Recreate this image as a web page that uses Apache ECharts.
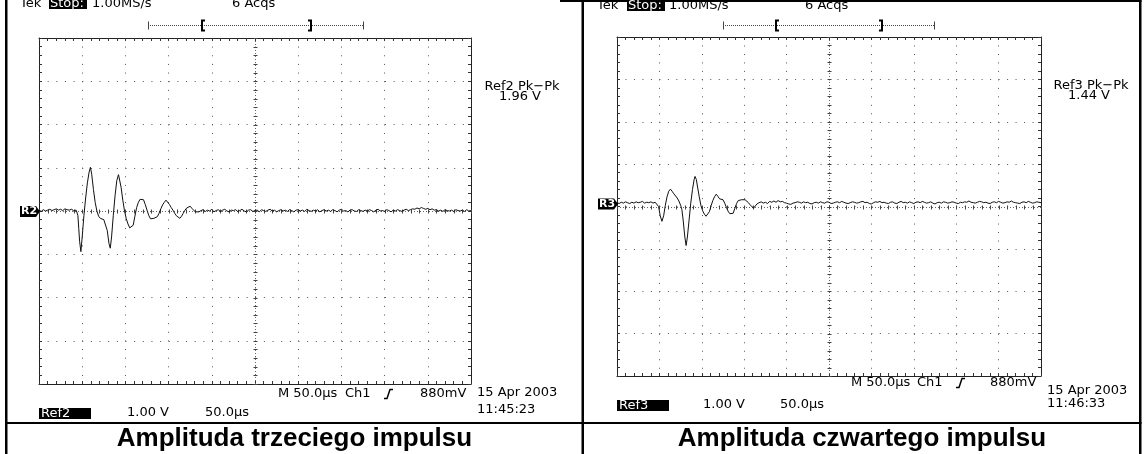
<!DOCTYPE html>
<html>
<head>
<meta charset="utf-8">
<script src="https://cdn.jsdelivr.net/npm/echarts@6/dist/echarts.min.js"></script>
<style>
html,body{margin:0;padding:0;background:#fff;}
#chart{width:1144px;height:454px;}
</style>
</head>
<body>
<div id="chart"></div>
<script>
// ---- DATA ----
// time in microseconds (50 us/div, 10 div), voltage in volts (1 V/div)
const ref2Points = [
[0,0.02],[2.5,-0.01],[5,0.03],[7.5,0.0],[10,0.02],[12.5,0.04],[15,0.01],[17.5,0.03],[20,0.05],[22.5,0.02],[25,0.04],
[27.5,0.01],[30,0.05],[32.5,0.03],[35,0.02],[37.5,0.04],[40,0.01],[43,0.02],
[45,-0.1],[46,-0.4],[47,-0.7],[48.5,-0.94],[50,-0.6],[52,-0.1],[54,0.3],[56,0.65],[58,0.9],[59.5,1.01],[61,0.85],[63,0.5],
[65,0.2],[67,0.0],[69,-0.12],[71,-0.17],[73,-0.15],[75,-0.2],[77,-0.22],[79,-0.45],[81,-0.75],[82.5,-0.86],[84,-0.6],
[86,-0.1],[88,0.35],[90,0.7],[92,0.84],[93.5,0.8],[95,0.55],[97,0.25],[99,0.0],[101,-0.18],[103,-0.3],[105,-0.39],
[107,-0.42],[109,-0.33],[111,-0.12],[113,0.08],[115,0.2],[117,0.27],[119,0.29],[121,0.26],[123,0.15],[125,0.02],
[127,-0.1],[129,-0.18],[131,-0.21],[133,-0.17],[135,-0.15],[137,-0.13],[139,-0.05],[141,0.05],[143,0.14],[145,0.2],
[147,0.25],[149,0.22],[151,0.15],[153,0.08],[155,0.02],[157,-0.05],[159,-0.11],[161,-0.15],[163,-0.17],[165,-0.12],
[167,-0.05],[169,0.02],[171,0.07],[173,0.1],[175,0.11],[177,0.06],[179,0.03],[181,-0.02],[183,0.02],
[185,-0.02],[187.5,0.01],[190,0.03],[192.5,-0.01],[195,0.02],[197.5,0.0],[200,0.04],[202.5,-0.02],[205,0.01],
[207.5,0.03],[210,-0.01],[212.5,0.02],[215,0.04],[217.5,0.0],[220,-0.02],[222.5,0.02],[225,0.01],[227.5,0.03],
[230,-0.01],[232.5,0.01],[235,0.04],[237.5,0.0],[240,-0.02],[242.5,0.02],[245,0.03],[247.5,-0.01],[250,0.01],
[252.5,0.02],[255,-0.02],[257.5,0.03],[260,0.01],[262.5,-0.01],[265,0.02],[267.5,0.04],[270,0.0],[272.5,0.02],
[275,-0.02],[277.5,0.01],[280,0.03],[282.5,0.0],[285,0.02],[287.5,-0.01],[290,0.03],[292.5,0.01],[295,-0.02],
[297.5,0.02],[300,0.03],[302.5,0.0],[305,0.02],[307.5,-0.01],[310,0.04],[312.5,0.01],[315,-0.01],[317.5,0.02],
[320,0.0],[322.5,0.03],[325,-0.02],[327.5,0.01],[330,0.03],[332.5,0.0],[335,0.02],[337.5,-0.01],[340,0.03],
[342.5,0.01],[345,-0.02],[347.5,0.02],[350,0.04],[352.5,0.0],[355,0.01],[357.5,-0.02],[360,0.02],[362.5,0.03],
[365,0.0],[367.5,-0.01],[370,0.03],[372.5,0.01],[375,-0.01],[377.5,0.02],[380,0.0],[382.5,0.03],[385,0.01],
[387.5,-0.02],[390,0.02],[392.5,0.04],[395,0.0],[397.5,0.01],[400,-0.01],[402.5,0.03],[405,0.01],[407.5,-0.02],
[410,0.02],[412.5,0.0],[415,0.03],[417.5,0.01],[420,-0.01],[422.5,0.02],[425,0.04],[427.5,0.01],[430,0.03],
[432.5,0.05],[435,0.04],[437.5,0.07],[440,0.05],[442.5,0.08],[445,0.06],[447.5,0.04],[450,0.06],[452.5,0.03],
[455,0.05],[457.5,0.02],[460,0.03],[462.5,0.0],[465,0.02],[467.5,-0.01],[470,0.03],[472.5,0.01],[475,0.0],
[477.5,0.02],[480,-0.01],[482.5,0.03],[485,0.01],[487.5,0.0],[490,0.02],[492.5,-0.01],[495,0.03],[497.5,0.0],[500,0.01]
];
const ref3Points = [
[0,0.01],[2.5,-0.01],[5,0.02],[7.5,0.0],[10,0.03],[12.5,0.01],[15,-0.01],[17.5,0.02],[20,0.0],[22.5,0.03],[25,0.01],
[27.5,0.02],[30,0.04],[32.5,0.0],[35,0.02],[37.5,0.01],[40,0.03],[42.5,0.0],[45,0.02],
[47,0.0],[49,-0.08],[51,-0.3],[53,-0.43],[55,-0.3],[57,-0.05],[59,0.15],[61,0.28],[63,0.33],[65,0.28],[67,0.22],
[69,0.19],[71,0.12],[73,0.05],[75,-0.05],[76.5,-0.15],[78,-0.4],[80,-0.8],[81.5,-1.0],[83,-0.8],[85,-0.4],[87,0.0],
[89,0.32],[91,0.56],[92,0.63],[93.5,0.56],[95,0.38],[97,0.15],[99,-0.06],[101,-0.18],[103,-0.26],[105,-0.31],
[107,-0.3],[109,-0.2],[111,-0.06],[113,0.06],[115,0.15],[117,0.21],[119,0.16],[121,0.1],[123,0.12],[125,0.08],
[127,0.0],[129,-0.1],[131,-0.19],[133,-0.25],[135,-0.28],[137,-0.24],[139,-0.12],[141,-0.01],[143,0.06],[145,0.1],
[147,0.08],[149,0.07],[151,0.08],[153,0.05],[155,0.01],[157,-0.04],[159,-0.08],[161,-0.12],[163,-0.1],[165,-0.02],
[167.5,0.01],[170,0.03],[172.5,0.0],[175,0.02],[177.5,-0.01],[180,0.04],[182.5,0.02],[185,0.05],[187.5,0.02],
[190,0.06],[192.5,0.03],[195,0.04],[197.5,0.01],[200,0.0],[202.5,-0.02],[205,-0.03],[207.5,0.0],[210,0.01],
[212.5,0.03],[215,0.02],[217.5,0.0],[220,0.03],[222.5,0.01],[225,0.02],[227.5,-0.01],[230,-0.02],[232.5,0.01],
[235,0.02],[237.5,0.0],[240,0.03],[242.5,0.01],[245,0.0],[247.5,0.03],[250,0.02],[252.5,-0.01],[255,0.0],
[257.5,0.02],[260,0.03],[262.5,0.01],[265,0.04],[267.5,0.02],[270,0.0],[272.5,-0.01],[275,0.01],[277.5,0.03],
[280,0.02],[282.5,0.0],[285,0.01],[287.5,0.03],[290,0.04],[292.5,0.01],[295,0.02],[297.5,-0.01],[300,-0.02],
[302.5,0.01],[305,0.03],[307.5,0.02],[310,0.04],[312.5,0.01],[315,0.02],[317.5,0.0],[320,-0.01],[322.5,0.02],
[325,0.03],[327.5,0.0],[330,-0.01],[332.5,0.02],[335,0.04],[337.5,0.01],[340,0.02],[342.5,0.0],[345,0.03],
[347.5,0.01],[350,-0.01],[352.5,0.02],[355,0.03],[357.5,0.01],[360,0.04],[362.5,0.02],[365,0.0],[367.5,0.01],
[370,0.03],[372.5,0.0],[375,-0.02],[377.5,0.01],[380,0.02],[382.5,0.0],[385,0.03],[387.5,0.02],[390,0.0],
[392.5,0.01],[395,0.03],[397.5,0.02],[400,0.0],[402.5,-0.01],[405,0.02],[407.5,0.01],[410,0.03],[412.5,0.02],
[415,0.05],[417.5,0.02],[420,0.01],[422.5,0.0],[425,0.02],[427.5,0.04],[430,0.03],[432.5,0.01],[435,0.02],
[437.5,0.0],[440,-0.01],[442.5,0.02],[445,0.03],[447.5,0.01],[450,0.04],[452.5,0.02],[455,0.0],[457.5,0.01],
[460,0.03],[462.5,0.02],[465,0.05],[467.5,0.02],[470,0.01],[472.5,0.0],[475,-0.01],[477.5,0.02],[480,0.03],
[482.5,0.01],[485,0.04],[487.5,0.02],[490,0.0],[492.5,0.01],[495,0.03],[497.5,0.02],[500,0.01]
];
const timeRange = [0, 500];          // us, 10 divisions
const timeDiv = 50;                  // us per division
const leftVoltRange = [-4, 4];       // Ref2 graticule
const rightVoltRange = [-4.08, 3.92]; // Ref3 graticule (marker slightly above centre)
const voltDiv = 1;

const headerLabels = {tek: 'Tek', stop: 'Stop:', rate: '1.00MS/s', acqs: '6 Acqs'};
const leftMeas = ['Ref2 Pk\u2212Pk', '1.96 V'];
const rightMeas = ['Ref3 Pk\u2212Pk', '1.44 V'];
const leftFooter = {ref: 'Ref2', volts: '1.00 V', time: '50.0\u00b5s', date: '15 Apr 2003', clock: '11:45:23'};
const rightFooter = {ref: 'Ref3', volts: '1.00 V', time: '50.0\u00b5s', date: '15 Apr 2003', clock: '11:46:33'};
const horizLabels = {m: 'M 50.0\u00b5s', ch: 'Ch1', trig: '880mV'};
const captions = ['Amplituda trzeciego impulsu', 'Amplituda czwartego impulsu'];

// ---- LAYOUT ----
const grids = [
  {left: 39, top: 38, width: 432, height: 346},
  {left: 617, top: 37, width: 424, height: 339}
];
const FONT = '"DejaVu Sans", sans-serif';

function xAxes(gi, dash) {
  const base = {
    gridIndex: gi, type: 'value', min: timeRange[0], max: timeRange[1], interval: timeDiv,
    axisLabel: {show: false},
    axisLine: {show: true, onZero: false, lineStyle: {color: '#222', width: 1}},
    axisTick: {show: true, inside: true, length: 3, lineStyle: {color: '#333'}},
    minorTick: {show: true, splitNumber: 5, length: 3, lineStyle: {color: '#333'}}
  };
  return [
    Object.assign({}, base, {position: 'bottom',
      splitLine: {show: true, lineStyle: {color: '#555', width: 1, type: dash}}}),
    Object.assign({}, base, {position: 'top', splitLine: {show: false}})
  ];
}
function yAxes(gi, range, dash) {
  const base = {
    gridIndex: gi, type: 'value', min: range[0], max: range[1], interval: voltDiv,
    axisLabel: {show: false},
    axisLine: {show: true, onZero: false, lineStyle: {color: '#222', width: 1}},
    axisTick: {show: true, inside: true, length: 3, lineStyle: {color: '#333'}},
    minorTick: {show: true, splitNumber: 5, length: 3, lineStyle: {color: '#333'}}
  };
  return [
    Object.assign({}, base, {position: 'left',
      splitLine: {show: true, lineStyle: {color: '#555', width: 1, type: dash}}}),
    Object.assign({}, base, {position: 'right', splitLine: {show: false}})
  ];
}

function graticule(xi, yi, yRange) {
  return {
    type: 'custom', xAxisIndex: xi, yAxisIndex: yi, silent: true, z: 1,
    data: [[(timeRange[0] + timeRange[1]) / 2, (yRange[0] + yRange[1]) / 2]],
    renderItem: function (params, api) {
      const cx = api.value(0), cy = api.value(1);
      const l = api.coord([timeRange[0], cy]), r = api.coord([timeRange[1], cy]);
      const t = api.coord([cx, yRange[1]]), b = api.coord([cx, yRange[0]]);
      const yc = Math.round(l[1]) + 0.5, xc = Math.round(t[0]) + 0.5;
      const st = {stroke: '#444', lineWidth: 1};
      const ch = [
        {type: 'line', shape: {x1: l[0], y1: yc, x2: r[0], y2: yc}, style: {stroke: '#666', lineWidth: 1, lineDash: [1, 2]}},
        {type: 'line', shape: {x1: xc, y1: t[1], x2: xc, y2: b[1]}, style: {stroke: '#666', lineWidth: 1, lineDash: [1, 2]}}
      ];
      for (let x = timeRange[0]; x <= timeRange[1] + 1e-6; x += timeDiv / 5) {
        const p = api.coord([x, cy]); const px = Math.round(p[0]) + 0.5;
        ch.push({type: 'line', shape: {x1: px, y1: yc - 2, x2: px, y2: yc + 2}, style: st});
      }
      for (let k = 0; k <= 40; k++) {
        const v = yRange[0] + (yRange[1] - yRange[0]) * k / 40;
        const p = api.coord([cx, v]); const py = Math.round(p[1]) + 0.5;
        ch.push({type: 'line', shape: {x1: xc - 2, y1: py, x2: xc + 2, y2: py}, style: st});
      }
      return {type: 'group', children: ch};
    }
  };
}

function txt(text, x, y, o) {
  o = o || {};
  return {
    type: 'text', x: x, y: y, z: 100, silent: true,
    style: {
      text: text, fill: o.fill || '#000',
      font: (o.weight || 'normal') + ' ' + (o.size || 13) + 'px ' + (o.family || FONT),
      align: o.align || 'left', textAlign: o.align || 'left',
      verticalAlign: 'middle', textVerticalAlign: 'middle'
    }
  };
}
function rect(x, y, w, h, fill) {
  return {type: 'rect', z: 99, silent: true, shape: {x: x, y: y, width: w, height: h}, style: {fill: fill || '#000'}};
}
function line(x1, y1, x2, y2, o) {
  o = o || {};
  return {type: 'line', z: 99, silent: true, shape: {x1: x1, y1: y1, x2: x2, y2: y2},
    style: {stroke: o.stroke || '#000', lineWidth: o.w || 1, lineDash: o.dash || null}};
}
function poly(points, o) {
  o = o || {};
  return {type: 'polyline', z: 99, silent: true, shape: {points: points},
    style: {stroke: o.stroke || '#000', lineWidth: o.w || 1, fill: null}};
}
function tri(points) {
  return {type: 'polygon', z: 99, silent: true, shape: {points: points}, style: {fill: '#000'}};
}

function panelGraphics(p) {
  const g = [];
  // header
  g.push(txt(headerLabels.tek, p.tekX, p.hy));
  g.push(rect(p.stopX - 1, p.hy - 6, 38, 11));
  g.push(txt(headerLabels.stop, p.stopX, p.hy, {fill: '#fff'}));
  g.push(txt(headerLabels.rate, p.rateX, p.hy));
  g.push(txt(headerLabels.acqs, p.acqX, p.hy));
  // record bracket
  const by = 25.5;
  g.push(line(p.bx1, by, p.bx2, by, {stroke: '#444', dash: [1, 1]}));
  g.push(line(p.bx1 + 0.5, by - 4, p.bx1 + 0.5, by + 4, {stroke: '#444'}));
  g.push(line(p.bx2 + 0.5, by - 4, p.bx2 + 0.5, by + 4, {stroke: '#444'}));
  g.push(poly([[p.bl + 3, by - 5], [p.bl, by - 5], [p.bl, by + 5], [p.bl + 3, by + 5]], {w: 2}));
  g.push(poly([[p.br - 3, by - 5], [p.br, by - 5], [p.br, by + 5], [p.br - 3, by + 5]], {w: 2}));
  // reference marker
  g.push(rect(p.mx, p.my - 5, 16, 11));
  g.push(tri([[p.mx + 16, p.my - 5], [p.mx + 20, p.my + 0.5], [p.mx + 16, p.my + 6]]));
  g.push(txt(p.mLabel, p.mx + 1, p.my + 0.5, {fill: '#fff', weight: 'bold', size: 11}));
  // measurement
  g.push(txt(p.meas[0], p.measX, p.measY, {align: 'center'}));
  g.push(txt(p.meas[1], p.measX - 2, p.measY + 10, {align: 'center'}));
  // horizontal / trigger line
  g.push(txt(horizLabels.m, p.mX, p.hzY));
  g.push(txt(horizLabels.ch, p.chX, p.hzY));
  g.push(poly([[p.trX, p.hzY + 4.5], [p.trX + 3, p.hzY + 4.5], [p.trX + 6, p.hzY - 4.5], [p.trX + 9, p.hzY - 4.5]], {w: 1.5}));
  g.push(txt(horizLabels.trig, p.tvX, p.hzY));
  g.push(txt(p.foot.date, p.dX, p.dY));
  g.push(txt(p.foot.clock, p.dX, p.cY));
  // footer
  g.push(rect(p.fX, p.fY - 5, 52, 11));
  g.push(txt(p.foot.ref, p.fX + 2, p.fY + 0.5, {fill: '#fff'}));
  g.push(txt(p.foot.volts, p.fvX, p.fY));
  g.push(txt(p.foot.time, p.ftX, p.fY));
  return g;
}

const leftPanel = {tekX: 20, hy: 4, stopX: 50, rateX: 92, acqX: 232,
  bx1: 148, bx2: 363, bl: 202, br: 311,
  mx: 20, my: 211, mLabel: 'R2', meas: leftMeas, measX: 522, measY: 87,
  mX: 278, chX: 345, trX: 384, tvX: 420, hzY: 394,
  dX: 477, dY: 393, cY: 410, foot: leftFooter,
  fX: 39, fY: 413, fvX: 127, ftX: 205};
const rightPanel = {tekX: 597, hy: 6, stopX: 628, rateX: 669, acqX: 805,
  bx1: 723, bx2: 934, bl: 776, br: 882,
  mx: 598, my: 203.5, mLabel: 'R3', meas: rightMeas, measX: 1091, measY: 86,
  mX: 851, chX: 917, trX: 956, tvX: 990, hzY: 383,
  dX: 1047, dY: 391, cY: 404, foot: rightFooter,
  fX: 617, fY: 405, fvX: 703, ftX: 780};

const frame = [
  rect(5, 0, 2.5, 454), rect(581.5, 0, 2.5, 454), rect(1139, 0, 2.5, 454),
  rect(5, 422, 1136.5, 2), rect(560, 0, 581.5, 2)
];
const caps = [
  txt(captions[0], 294.5, 439, {align: 'center', weight: 'bold', size: 26, family: '"Liberation Sans", Arial, sans-serif'}),
  txt(captions[1], 862, 439, {align: 'center', weight: 'bold', size: 26, family: '"Liberation Sans", Arial, sans-serif'})
];

const option = {
  animation: false,
  backgroundColor: '#fff',
  grid: grids,
  xAxis: [].concat(xAxes(0, [1, 7.64]), xAxes(1, [1, 7.48])),
  yAxis: [].concat(yAxes(0, leftVoltRange, [1, 7.65]), yAxes(1, rightVoltRange, [1, 7.48])),
  series: [
    graticule(0, 0, leftVoltRange),
    graticule(2, 2, rightVoltRange),
    {type: 'line', xAxisIndex: 0, yAxisIndex: 0, data: ref2Points, showSymbol: false, symbol: 'none',
      lineStyle: {color: '#111', width: 1}, z: 3, silent: true},
    {type: 'line', xAxisIndex: 2, yAxisIndex: 2, data: ref3Points, showSymbol: false, symbol: 'none',
      lineStyle: {color: '#111', width: 1}, z: 3, silent: true}
  ],
  graphic: {elements: [].concat(panelGraphics(leftPanel), panelGraphics(rightPanel), frame, caps)}
};

const chart = echarts.init(document.getElementById('chart'), null, {renderer: 'canvas'});
chart.setOption(option);
</script>
</body>
</html>
